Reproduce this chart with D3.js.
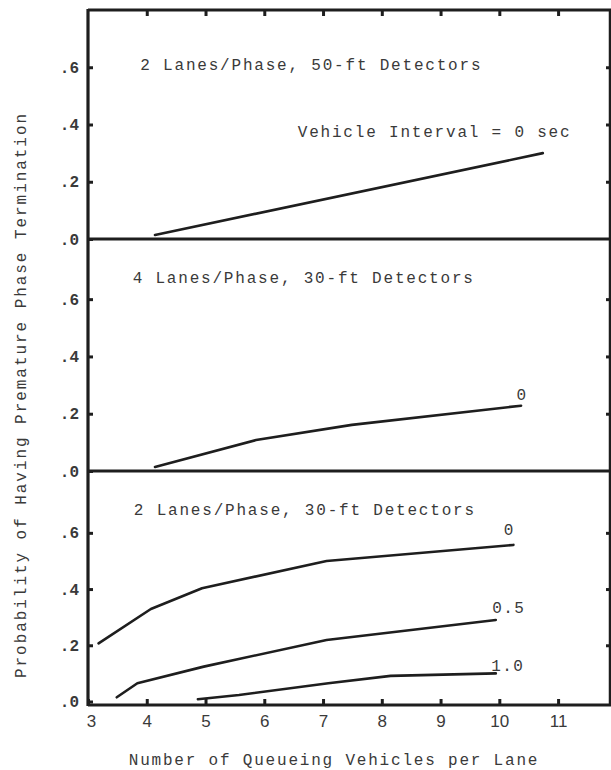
<!DOCTYPE html>
<html>
<head>
<meta charset="utf-8">
<script src="https://cdn.jsdelivr.net/npm/d3@7"></script>
<style>
  body { margin: 0; background: #fff; }
  svg text { font-family: "Liberation Mono", "Courier New", monospace; fill: #3a3a3a; }
</style>
</head>
<body>
<div class="diagram-canvas"></div>
<script>
// number of queueing vehicles per lane / probability
let top50X = [4.14, 10.74];
let top50Y = [0.014, 0.30];
let mid30X = [4.14, 5.86, 7.49, 10.37];
let mid30Y = [0.014, 0.108, 0.161, 0.228];
let low0X = [3.18, 4.07, 4.94, 7.06, 10.24];
let low0Y = [0.207, 0.329, 0.403, 0.5, 0.557];
let low05X = [3.49, 3.84, 4.97, 7.06, 9.94];
let low05Y = [0.015, 0.065, 0.124, 0.219, 0.29];
let low10X = [4.87, 5.57, 7.09, 8.15, 9.94];
let low10Y = [0.008, 0.023, 0.065, 0.091, 0.1];

let xTicks = [3, 4, 5, 6, 7, 8, 9, 10, 11];
let yTicks = [0, 0.2, 0.4, 0.6];
let panelTitles = [
  "2 Lanes/Phase, 50-ft Detectors",
  "4 Lanes/Phase, 30-ft Detectors",
  "2 Lanes/Phase, 30-ft Detectors",
];
let intervalNames = ["0", "0.5", "1.0"];

let width = 611,
  height = 770,
  left = 88,
  right = 610,
  topY = 10,
  sep1 = 239,
  sep2 = 471,
  bottomY = 705;

let xScale = d3.scaleLinear().domain([3, 11.9]).range([left, left + 8.9 * 58.76]);

let panels = [
  {
    y: d3.scaleLinear().domain([0, 0.8]).range([sep1, topY]),
    title: panelTitles[0],
    titleAt: [3.89, 0.59],
    series: [{ x: top50X, y: top50Y, label: null }],
  },
  {
    y: d3.scaleLinear().domain([0, 0.81]).range([sep2, sep1]),
    title: panelTitles[1],
    titleAt: [3.76, 0.656],
    series: [{ x: mid30X, y: mid30Y, label: intervalNames[0], dx: 1, dy: -6 }],
  },
  {
    y: d3.scaleLinear().domain([-0.0125, 0.82]).range([bottomY, sep2]),
    title: panelTitles[2],
    titleAt: [3.78, 0.664],
    series: [
      { x: low0X, y: low0Y, label: intervalNames[0], dx: -4, dy: -10 },
      { x: low05X, y: low05Y, label: intervalNames[1], dx: 13, dy: -7 },
      { x: low10X, y: low10Y, label: intervalNames[2], dx: 12, dy: -2 },
    ],
  },
];

let svg = d3
  .select(".diagram-canvas")
  .append("svg")
  .attr("width", width)
  .attr("height", height);

let ink = "#1e1e1e";

panels.forEach(function (p) {
  // y ticks, left (with labels) and right
  let yAxis = d3
    .axisLeft(p.y)
    .tickValues(yTicks)
    .tickSizeInner(-5)
    .tickSizeOuter(0)
    .tickPadding(9)
    .tickFormat((d) => "." + Math.round(d * 10));
  let gy = svg
    .append("g")
    .attr("transform", "translate(" + left + ",0)")
    .call(yAxis);
  gy.select(".domain").remove();
  gy.selectAll("line").attr("stroke", ink).attr("stroke-width", 3);
  gy.selectAll("text")
    .attr("font-size", 16)
    .attr("font-weight", "bold")
    .style("font-family", '"Liberation Mono", monospace')
    .attr("fill", "#4a4a4a");

  let yAxisR = d3
    .axisRight(p.y)
    .tickValues(yTicks.slice(1))
    .tickSizeInner(-4)
    .tickSizeOuter(0)
    .tickFormat("");
  let gr = svg
    .append("g")
    .attr("transform", "translate(" + right + ",0)")
    .call(yAxisR);
  gr.select(".domain").remove();
  gr.selectAll("line").attr("stroke", ink).attr("stroke-width", 3);

  svg
    .append("text")
    .attr("x", xScale(p.titleAt[0]))
    .attr("y", p.y(p.titleAt[1]))
    .attr("font-size", 16)
    .attr("letter-spacing", 1.8)
    .text(p.title);

  let line = d3
    .line()
    .x((d) => xScale(d[0]))
    .y((d) => p.y(d[1]));

  p.series.forEach(function (s) {
    let pts = d3.zip(s.x, s.y);
    svg
      .append("path")
      .datum(pts)
      .attr("d", line)
      .attr("fill", "none")
      .attr("stroke", ink)
      .attr("stroke-width", 2.6)
      .attr("stroke-linejoin", "round")
      .attr("stroke-linecap", "round");
    if (s.label) {
      let last = pts[pts.length - 1];
      svg
        .append("text")
        .attr("x", xScale(last[0]) + s.dx)
        .attr("y", p.y(last[1]) + s.dy)
        .attr("text-anchor", "middle")
        .attr("font-size", 16)
        .attr("letter-spacing", 1.5)
        .text(s.label);
    }
  });
});

// note in the top panel
svg
  .append("text")
  .attr("x", xScale(6.57))
  .attr("y", panels[0].y(0.356))
  .attr("font-size", 16)
  .attr("letter-spacing", 1.8)
  .text("Vehicle Interval = " + intervalNames[0] + " sec");

// x ticks: labelled along the bottom, bare along the top
let xAxis = d3
  .axisBottom(xScale)
  .tickValues(xTicks)
  .tickSizeInner(-6)
  .tickSizeOuter(0)
  .tickPadding(10)
  .tickFormat(d3.format("d"));
let gx = svg
  .append("g")
  .attr("transform", "translate(0," + bottomY + ")")
  .call(xAxis);
gx.select(".domain").remove();
gx.selectAll("line").attr("stroke", ink).attr("stroke-width", 3);
gx.selectAll("text")
  .attr("font-size", 17)
  .style("font-family", '"Liberation Sans", sans-serif')
  .attr("fill", (d) => (d === 3 ? "#999" : "#555"))
  .attr("dx", (d) => (d === 3 ? 3 : 0));

let xAxisTop = d3
  .axisTop(xScale)
  .tickValues(xTicks.slice(1))
  .tickSizeInner(-6)
  .tickSizeOuter(0)
  .tickFormat("");
let gt = svg
  .append("g")
  .attr("transform", "translate(0," + topY + ")")
  .call(xAxisTop);
gt.select(".domain").remove();
gt.selectAll("line").attr("stroke", ink).attr("stroke-width", 3);

// frame and panel separators
let frame = svg.append("g").attr("stroke", ink).attr("fill", "none");
frame.append("line").attr("x1", left).attr("x2", left).attr("y1", topY - 1).attr("y2", bottomY + 1).attr("stroke-width", 3.2);
frame.append("line").attr("x1", right).attr("x2", right).attr("y1", topY).attr("y2", bottomY).attr("stroke-width", 2.5);
[topY, sep1, sep2, bottomY].forEach(function (yy) {
  frame.append("line").attr("x1", left).attr("x2", width).attr("y1", yy).attr("y2", yy).attr("stroke-width", 3);
});

// axis titles
svg
  .append("text")
  .attr("transform", "translate(26," + 395 + ") rotate(-90)")
  .attr("text-anchor", "middle")
  .attr("font-size", 16)
  .attr("letter-spacing", 1.95)
  .text("Probability of Having Premature Phase Termination");

svg
  .append("text")
  .attr("x", 334)
  .attr("y", 765)
  .attr("text-anchor", "middle")
  .attr("font-size", 16)
  .attr("letter-spacing", 1.8)
  .text("Number of Queueing Vehicles per Lane");
</script>
</body>
</html>
